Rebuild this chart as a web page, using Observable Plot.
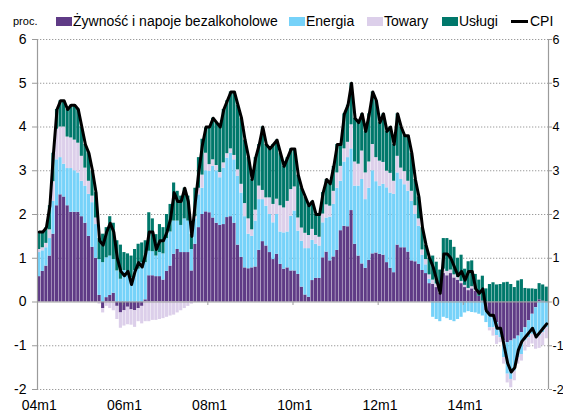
<!DOCTYPE html>
<html><head><meta charset="utf-8">
<script src="https://cdn.jsdelivr.net/npm/d3@7"></script>
<script src="https://cdn.jsdelivr.net/npm/@observablehq/plot@0.6"></script>
<style>
body{margin:0;background:#fff;font-family:"Liberation Sans",Arial,sans-serif;}
#wrap{position:relative;width:563px;height:412px;overflow:hidden;background:#fff}
#legend{position:relative;height:30px;width:563px;font-size:14px;color:#000}
#legend span{position:absolute;white-space:nowrap;line-height:14px}
#legend i{position:absolute;display:block}
</style></head><body>
<div id="wrap"><div id="legend"></div><div id="chart"></div></div>
<script>
// Monthly data 2004m1 - 2015m12 (contributions to CPI, pp)
const seriesNames = ["Żywność i napoje bezalkoholowe","Energia","Towary","Usługi"];
const seriesColors = ["#5F3B86","#76D2F9","#DCCFEA","#00786B"];
const xTickLabels = ["04m1","06m1","08m1","10m1","12m1","14m1"];
const yTicks = [-2,-1,0,1,2,3,4,5,6];

const food = [
 0.58,0.70,0.82,1.05,1.55,2.20,2.45,2.40,2.20,2.05,2.05,2.05,
 1.95,1.80,1.50,1.25,1.00,0.15,-0.15,0.10,0.15,0.20,-0.10,-0.25,
 -0.20,-0.12,-0.18,-0.20,-0.15,-0.10,0.05,0.60,0.60,0.58,0.58,0.50,
 0.70,0.82,1.09,1.20,1.13,1.13,1.13,0.71,1.32,1.70,2.00,2.06,
 2.04,1.92,1.80,1.75,1.77,1.93,1.95,1.80,1.30,1.02,0.78,0.76,
 0.78,0.80,1.18,1.38,1.28,1.13,0.97,1.09,0.86,0.75,0.78,0.71,
 0.71,0.63,0.34,0.16,0.11,0.49,0.54,0.54,1.01,1.14,0.94,1.03,
 1.18,1.63,1.73,1.72,2.09,1.32,1.05,0.87,0.77,0.95,1.10,1.12,
 1.09,1.07,0.90,0.77,0.67,1.30,1.24,1.24,1.14,0.94,0.92,0.86,
 0.72,0.65,0.42,0.40,0.33,0.20,0.65,0.60,0.65,0.55,0.50,0.42,
 0.33,0.26,0.30,0.25,0.13,0.02,-0.20,-0.28,-0.36,-0.47,-0.62,-0.89,
 -0.93,-0.89,-0.85,-0.78,-0.70,-0.59,-0.43,-0.28,-0.13,0.05,0.02,0.00];
const energy = [
 0.55,0.47,0.42,0.40,0.75,1.05,0.85,0.75,0.85,1.00,0.95,0.90,
 0.81,0.85,0.96,1.02,0.77,0.82,0.90,0.91,0.90,0.77,0.71,0.52,
 0.72,0.67,0.55,0.72,0.75,0.90,0.85,0.56,0.55,0.47,0.55,0.60,
 0.75,0.78,0.76,0.65,0.62,0.77,0.72,0.49,0.58,0.75,0.60,0.94,
 0.95,1.18,1.20,1.09,1.29,1.36,1.45,1.45,1.57,1.47,1.17,0.79,
 0.72,1.05,1.16,0.96,0.91,0.87,0.84,0.91,0.74,0.83,0.82,1.25,
 1.37,0.99,1.05,1.06,1.11,0.92,0.78,0.74,0.80,0.78,1.00,1.20,
 1.42,1.13,1.47,1.58,1.41,1.33,1.60,1.93,1.57,1.65,1.90,1.63,
 1.56,1.62,1.71,1.72,1.79,1.65,1.56,1.44,1.39,1.36,1.08,0.87,
 0.35,0.20,0.10,-0.35,-0.40,-0.45,-0.35,-0.38,-0.42,-0.45,-0.40,-0.35,
 -0.25,-0.22,-0.24,-0.25,-0.28,-0.32,-0.27,-0.31,-0.23,-0.30,-0.20,-0.38,
 -0.72,-0.88,-0.73,-0.49,-0.50,-0.30,-0.39,-0.46,-0.61,-0.78,-0.70,-0.59];
const goods = [
 0.07,0.07,0.10,0.20,0.45,0.70,0.70,0.85,0.72,0.70,0.70,0.68,
 0.57,0.41,0.30,0.15,0.15,-0.05,-0.10,-0.10,-0.15,-0.20,-0.30,-0.35,
 -0.35,-0.40,-0.35,-0.38,-0.30,-0.40,-0.45,-0.45,-0.42,-0.42,-0.40,-0.38,
 -0.35,-0.32,-0.30,-0.25,-0.20,-0.15,-0.10,-0.05,0.05,0.15,0.30,0.40,
 0.15,0.15,0.12,0.12,0.12,0.10,0.10,0.10,0.15,0.20,0.30,0.35,
 0.15,0.25,0.31,0.21,0.19,0.38,0.42,0.35,0.60,0.57,0.70,0.61,
 0.55,0.30,0.30,0.35,0.30,0.25,0.20,0.20,0.20,0.30,0.25,0.30,
 0.35,0.34,0.30,0.35,0.55,0.55,0.50,0.65,0.61,0.60,0.60,0.55,
 0.57,0.50,0.38,0.45,0.30,0.38,0.26,0.30,0.23,0.23,0.20,0.17,
 0.12,0.12,0.10,0.10,0.08,0.08,0.10,0.10,0.08,0.07,0.06,0.05,
 0.05,0.05,0.05,0.03,0.00,0.00,0.00,-0.07,-0.19,-0.20,-0.11,-0.15,
 -0.20,-0.19,-0.22,-0.15,-0.15,-0.23,-0.22,-0.22,-0.34,-0.28,-0.30,-0.25];
const services = [
 0.40,0.36,0.36,0.55,0.65,0.45,0.60,0.60,0.63,0.75,0.80,0.77,
 0.67,0.54,0.64,0.58,0.58,0.48,0.65,0.69,0.90,0.83,0.69,0.78,
 0.41,0.43,0.50,0.48,0.57,0.45,0.50,0.88,0.75,0.49,0.64,0.60,
 0.55,0.63,0.87,0.68,0.67,0.70,0.57,0.35,0.65,0.70,0.82,0.58,
 0.86,0.95,0.98,1.04,1.22,1.21,1.30,1.45,1.48,1.51,1.45,1.40,
 1.15,1.20,0.95,1.45,1.22,1.12,1.37,1.35,1.20,0.95,1.00,0.93,
 0.87,0.98,0.91,0.83,0.68,0.64,0.48,0.52,0.49,0.58,0.51,0.57,
 0.65,0.50,0.80,0.85,0.95,1.00,0.95,0.85,0.95,1.10,1.20,1.30,
 0.88,1.11,0.91,1.06,0.84,0.97,0.94,0.82,1.04,0.87,0.60,0.50,
 0.51,0.33,0.38,0.55,0.50,0.45,0.70,0.75,0.68,0.63,0.44,0.60,
 0.37,0.61,0.59,0.35,0.37,0.57,0.30,0.40,0.44,0.39,0.40,0.44,
 0.45,0.40,0.33,0.48,0.51,0.31,0.30,0.30,0.29,0.37,0.37,0.34];
const cpi = [
 1.6,1.6,1.7,2.2,3.4,4.4,4.6,4.6,4.4,4.5,4.5,4.4,
 4.0,3.6,3.4,3.0,2.5,1.4,1.3,1.6,1.8,1.6,1.0,0.7,
 0.6,0.7,0.4,0.7,0.9,0.8,1.1,1.6,1.6,1.2,1.4,1.4,
 1.6,1.9,2.5,2.3,2.3,2.6,2.3,1.5,2.3,3.0,3.6,4.0,
 4.0,4.2,4.1,4.0,4.4,4.6,4.8,4.8,4.5,4.2,3.7,3.3,
 2.8,3.3,3.6,4.0,3.6,3.5,3.6,3.7,3.4,3.1,3.3,3.5,
 3.5,2.9,2.6,2.4,2.2,2.3,2.0,2.0,2.5,2.8,2.7,3.1,
 3.6,3.6,4.3,4.5,5.0,4.2,4.1,4.3,3.9,4.3,4.8,4.6,
 4.1,4.3,3.9,4.0,3.6,4.3,4.0,3.8,3.8,3.4,2.8,2.4,
 1.7,1.3,1.0,0.8,0.5,0.2,1.1,1.1,1.0,0.8,0.6,0.7,
 0.5,0.7,0.7,0.3,0.2,0.3,-0.2,-0.3,-0.3,-0.6,-0.6,-1.0,
 -1.4,-1.6,-1.5,-1.1,-0.9,-0.8,-0.7,-0.6,-0.8,-0.7,-0.6,-0.5];

const N = cpi.length;
const months = d3.range(N);
const comps = [food, energy, goods, services];
const long = [];
months.forEach(i => comps.forEach((arr, k) => long.push({m: i, s: seriesNames[k], v: arr[i]})));

// Legend
const legend = document.getElementById("legend");
const fontFam = '"Liberation Sans",Arial,sans-serif';
function span(text, left, top, size){const s=document.createElement("span");s.textContent=text;s.style.left=left+"px";s.style.top=top+"px";s.style.fontSize=size+"px";legend.appendChild(s);return s;}
function box(left, top, w, h, color){const b=document.createElement("i");Object.assign(b.style,{left:left+"px",top:top+"px",width:w+"px",height:h+"px",background:color});legend.appendChild(b);}
span("proc.", 13, 14, 11);
const swLeft = [56, 289, 367, 442];
seriesNames.forEach((n, k) => { box(swLeft[k], 17, 16, 9, seriesColors[k]); span(n, swLeft[k] + 17, 14, 14); });
box(511, 20, 17, 3, "#000");
span("CPI", 530, 14, 14);

const W = 563, H = 382, ML = 37, MR = 15, MT = 9, MB = 23;
const step = (W - ML - MR) / N;
const gray = "#9b9b9b";

const chart = Plot.plot({
  width: W, height: H,
  marginLeft: ML, marginRight: MR, marginTop: MT, marginBottom: MB,
  style: {fontFamily: fontFam, fontSize: "14px", background: "#fff", color: "#000", overflow: "visible"},
  x: {type: "band", domain: months, paddingInner: 0.12, paddingOuter: 0.06, align: 0.5, round: false},
  y: {domain: [-2, 6]},
  color: {domain: seriesNames, range: seriesColors},
  marks: [
    Plot.ruleY(yTicks.filter(d => d !== 0), {stroke: gray, strokeDasharray: "1.3,1.7", strokeWidth: 1}),
    Plot.barY(long, {x: "m", y: "v", fill: "s"}),
    Plot.ruleY([0], {stroke: gray, strokeWidth: 1}),
    Plot.ruleX([0], {dx: -step / 2, stroke: gray, strokeWidth: 1.2}),
    Plot.ruleX([N - 1], {dx: step / 2, stroke: gray, strokeWidth: 1.2}),
    Plot.ruleX([24, 48, 72, 96, 120], {x: d => d, y1: 0, y2: -0.08, dx: -step / 2, stroke: gray}),
    Plot.lineY(cpi, {x: (d, i) => i, y: d => d, stroke: "#000", strokeWidth: 3, strokeLinejoin: "round"}),
    Plot.axisY({anchor: "left", ticks: yTicks, tickFormat: d => String(d), tickSize: 5, tickPadding: 6, stroke: gray, fill: "#000", fontSize: 14, label: null}),
    Plot.axisY({anchor: "right", ticks: yTicks, tickFormat: d => String(d), tickSize: 3, tickPadding: 1, stroke: gray, fill: "#000", fontSize: 12.5, label: null}),
    Plot.axisX({ticks: [0, 24, 48, 72, 96, 120], tickFormat: d => xTickLabels[d / 24], tickSize: 0, tickPadding: 11, fill: "#000", fontSize: 14, label: null})
  ]
});
document.getElementById("chart").appendChild(chart);
</script>
</body></html>
